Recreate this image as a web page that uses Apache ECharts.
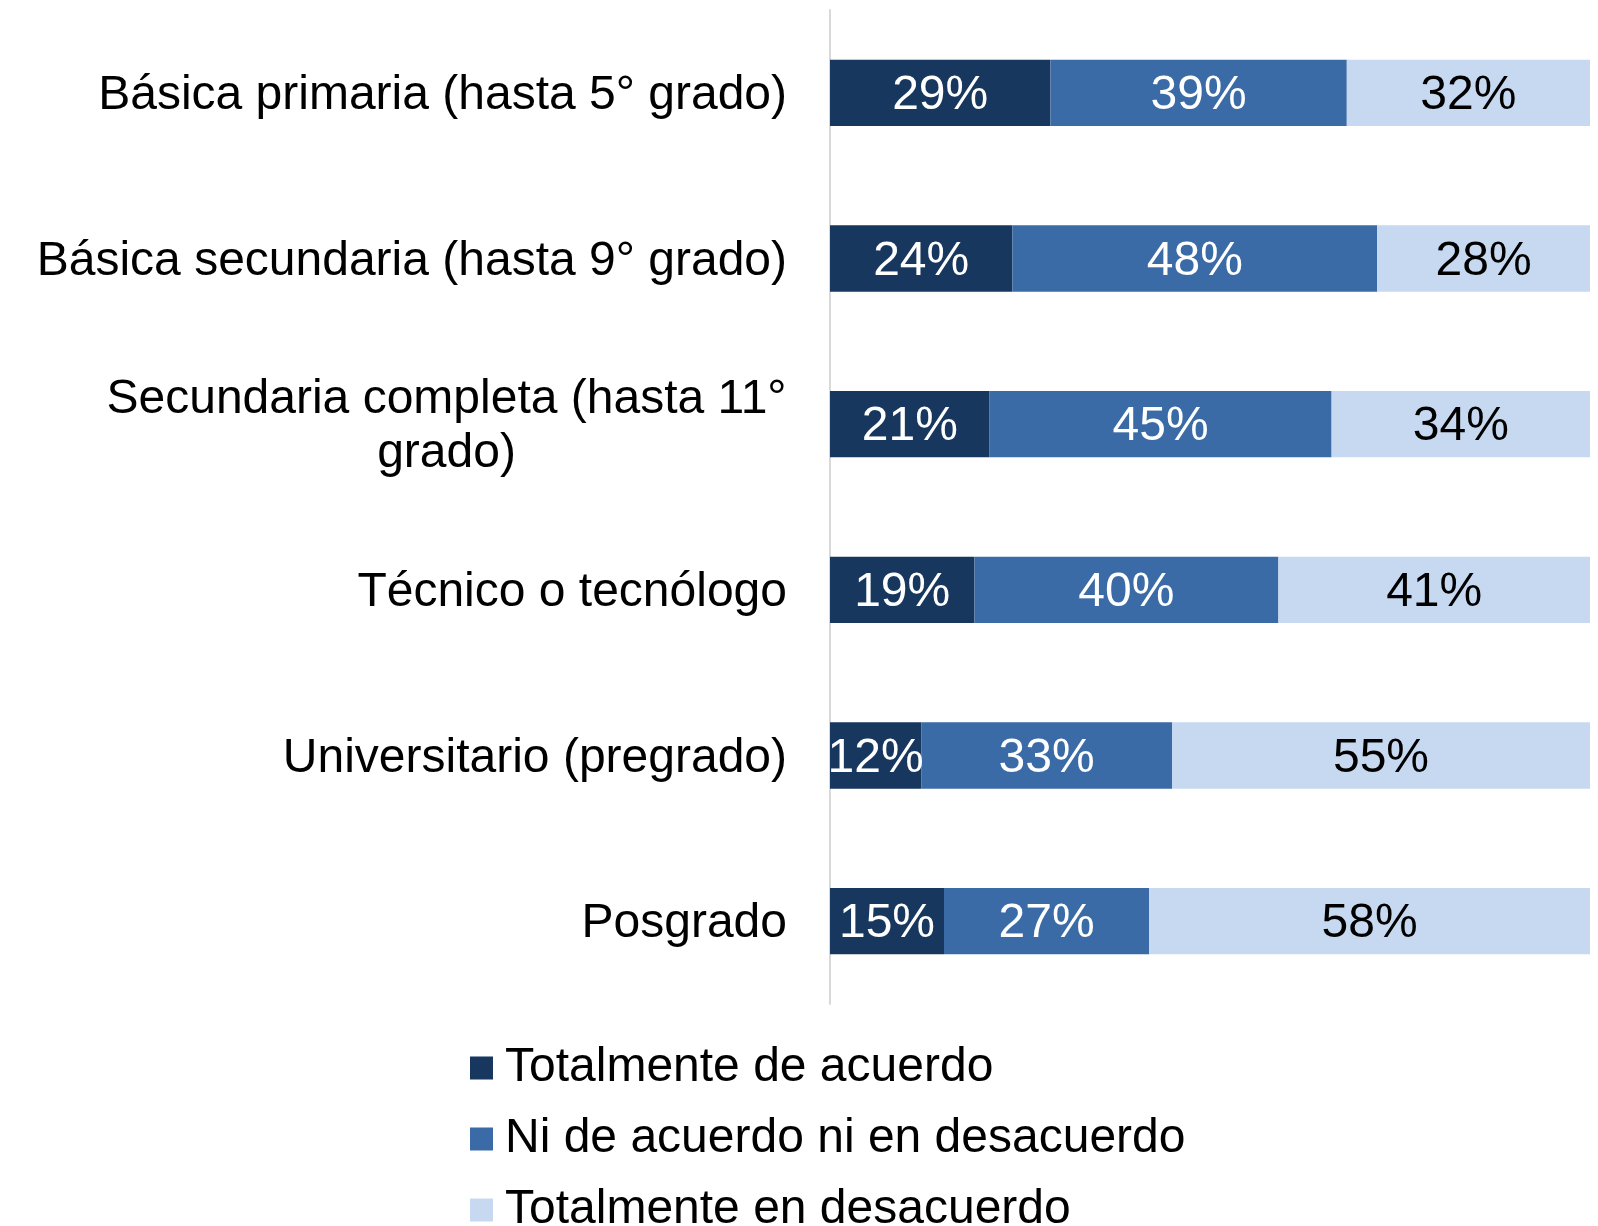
<!DOCTYPE html>
<html>
<head>
<meta charset="utf-8">
<script src="https://cdn.jsdelivr.net/npm/echarts@6/dist/echarts.min.js"></script>
<style>
  html, body { margin: 0; padding: 0; background: #fff; }
  #chart { width: 1598px; height: 1226px; }
</style>
</head>
<body>
<div id="chart"></div>
<script>
// categorias (de arriba hacia abajo)
var categories = [
  'Básica primaria (hasta 5° grado)',
  'Básica secundaria (hasta 9° grado)',
  'Secundaria completa (hasta 11°\ngrado)',
  'Técnico o tecnólogo',
  'Universitario (pregrado)',
  'Posgrado'
]
var seriesNames = ['Totalmente de acuerdo', 'Ni de acuerdo ni en desacuerdo', 'Totalmente en desacuerdo']
var deAcuerdo = [29, 24, 21, 19, 12, 15]
var ninguno = [39, 48, 45, 40, 33, 27]
var desacuerdo = [32, 28, 34, 41, 55, 58]
var colors = ['#17375E', '#3B6BA6', '#C6D9F0']

var FONT = 'Liberation Sans, Arial, sans-serif'

var chart = echarts.init(document.getElementById('chart'))

function makeSeries(name, data, color, labelColor) {
  return {
    name: name,
    type: 'bar',
    stack: 'total',
    barCategoryGap: '60%',
    data: data,
    itemStyle: { color: color },
    label: {
      show: true,
      position: 'inside',
      formatter: '{c}%',
      offset: [0, 3],
      color: labelColor,
      fontSize: 48,
      fontFamily: FONT
    }
  }
}

chart.setOption({
  animation: false,
  color: colors,
  grid: {
    left: 830,
    right: 8,
    top: 10,
    height: 994
  },
  xAxis: {
    type: 'value',
    min: 0,
    max: 100,
    show: false
  },
  yAxis: {
    type: 'category',
    inverse: true,
    data: categories,
    axisLine: { show: true, lineStyle: { color: '#D9D9D9', width: 2 } },
    axisTick: { show: false },
    axisLabel: {
      margin: 43,
      color: '#000',
      fontSize: 48,
      fontFamily: FONT,
      lineHeight: 54,
      padding: [6, 0, 0, 0],
      formatter: function (value) {
        var lines = value.split('\n')
        if (lines.length === 1) return value
        // segunda linea centrada bajo la primera
        return lines.map(function (l) { return '{c|' + l + '}' }).join('\n')
      },
      rich: {
        c: {
          width: 681,
          align: 'center',
          fontSize: 48,
          lineHeight: 54,
          fontFamily: FONT,
          color: '#000'
        }
      }
    }
  },
  legend: {
    orient: 'vertical',
    left: 465,
    top: 1037,
    height: 400,
    itemWidth: 23,
    itemHeight: 23,
    itemGap: 19,
    icon: 'rect',
    data: seriesNames,
    textStyle: {
      fontSize: 48,
      lineHeight: 48,
      fontFamily: FONT,
      color: '#000',
      padding: [4, 0, 0, 7]
    }
  },
  series: [
    makeSeries(seriesNames[0], deAcuerdo, colors[0], '#fff'),
    makeSeries(seriesNames[1], ninguno, colors[1], '#fff'),
    makeSeries(seriesNames[2], desacuerdo, colors[2], '#000')
  ]
})
</script>
</body>
</html>
